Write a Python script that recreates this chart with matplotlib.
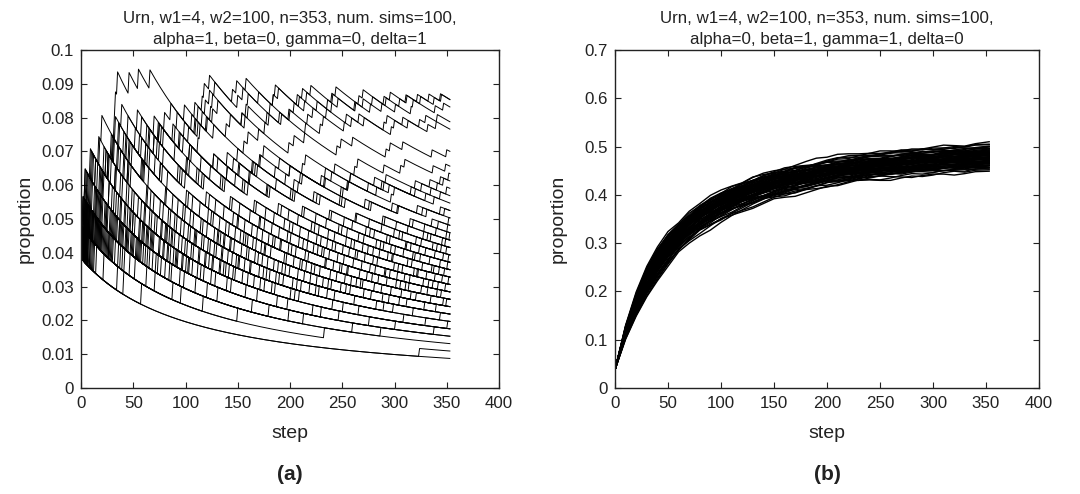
import matplotlib
matplotlib.use("Agg")
import matplotlib.pyplot as plt
import numpy as np

plt.rcParams['font.family'] = ['Liberation Sans', 'DejaVu Sans']

# ---------------- data ----------------
W1 = 4          # initial red balls
W2 = 100        # initial white balls
N_STEPS = 353   # number of draws

TITLE_A = "Urn, w1=4, w2=100, n=353, num. sims=100,\nalpha=1, beta=0, gamma=0, delta=1"
TITLE_B = "Urn, w1=4, w2=100, n=353, num. sims=100,\nalpha=0, beta=1, gamma=1, delta=0"

X_TICKS = [0, 50, 100, 150, 200, 250, 300, 350, 400]
Y_TICKS_A = [0, 0.01, 0.02, 0.03, 0.04, 0.05, 0.06, 0.07, 0.08, 0.09, 0.1]
Y_LABELS_A = ['0', '0.01', '0.02', '0.03', '0.04', '0.05', '0.06', '0.07', '0.08', '0.09', '0.1']
Y_TICKS_B = [0, 0.1, 0.2, 0.3, 0.4, 0.5, 0.6, 0.7]
Y_LABELS_B = ['0', '0.1', '0.2', '0.3', '0.4', '0.5', '0.6', '0.7']

# panel (a): steps at which a red ball was drawn (red count +1), one list per simulation
A_JUMPS = [
    [],
    [324],
    [41, 233],
    [12, 150, 287], [3, 96, 199],
    [22, 71, 180, 301], [5, 9, 260, 338], [58, 117, 213, 276],
    [2, 40, 131, 222, 309], [15, 88, 95, 247, 330], [7, 63, 164, 188, 351],
    [6, 30, 77, 140, 205, 290], [1, 18, 110, 169, 241, 318], [35, 52, 121, 198, 266, 344], [4, 11, 85, 230, 251, 299],
    [9, 26, 60, 103, 176, 225, 312], [2, 47, 81, 144, 201, 283, 340], [13, 38, 99, 158, 209, 262, 329], [5, 20, 69, 125, 186, 243, 305],
    [3, 17, 44, 91, 137, 190, 254, 321], [8, 29, 66, 107, 166, 219, 278, 347], [1, 24, 55, 118, 172, 236, 271, 335],
    [11, 33, 74, 129, 148, 207, 289, 316], [6, 42, 87, 112, 183, 228, 295, 350],
    [2, 14, 50, 80, 133, 175, 226, 281, 332], [4, 27, 58, 97, 146, 194, 240, 297, 341], [10, 19, 64, 101, 155, 203, 258, 307, 326],
    [7, 36, 72, 115, 160, 211, 249, 288, 345], [1, 5, 45, 93, 139, 181, 237, 270, 314],
    [3, 21, 48, 76, 123, 162, 208, 245, 293, 337], [6, 16, 57, 89, 134, 171, 220, 264, 302, 349],
    [2, 31, 62, 104, 142, 187, 232, 268, 311, 333], [9, 25, 54, 98, 127, 178, 214, 259, 306, 342],
    [1, 12, 39, 83, 120, 157, 200, 253, 285, 328],
    [4, 15, 43, 70, 108, 141, 179, 216, 250, 296, 331], [2, 23, 51, 84, 113, 152, 193, 229, 274, 310, 346],
    [7, 28, 46, 79, 119, 163, 196, 239, 267, 303, 339], [1, 10, 37, 67, 100, 136, 170, 212, 256, 292, 323],
    [5, 19, 56, 92, 126, 149, 185, 224, 279, 315, 352],
    [3, 13, 34, 61, 90, 128, 159, 197, 235, 261, 300, 336], [6, 22, 49, 75, 106, 145, 174, 210, 248, 282, 319, 343],
    [2, 8, 41, 68, 102, 135, 167, 204, 242, 277, 308, 348], [4, 27, 53, 86, 114, 151, 189, 221, 255, 291, 322, 338],
    [1, 18, 32, 65, 94, 130, 161, 195, 234, 269, 304, 327],
    [2, 11, 30, 57, 82, 111, 143, 173, 206, 238, 272, 298, 334], [5, 20, 44, 69, 97, 124, 154, 182, 215, 246, 280, 313, 344],
    [3, 9, 38, 63, 88, 116, 147, 177, 218, 252, 284, 317, 351], [1, 16, 35, 59, 85, 122, 138, 168, 202, 231, 263, 294, 325],
    [2, 7, 26, 50, 73, 99, 132, 156, 184, 217, 244, 275, 301, 330], [4, 14, 33, 60, 81, 109, 137, 165, 192, 223, 257, 286, 318, 347],
    [1, 10, 29, 47, 78, 105, 131, 160, 191, 227, 251, 280, 309, 339], [3, 17, 40, 64, 87, 118, 144, 176, 199, 233, 265, 299, 320, 352],
    [1, 6, 21, 45, 66, 92, 117, 142, 169, 198, 226, 254, 283, 311, 337], [3, 12, 31, 52, 77, 103, 128, 153, 180, 209, 236, 262, 290, 316, 345],
    [2, 8, 24, 48, 71, 96, 121, 148, 174, 201, 230, 259, 287, 312, 341], [4, 15, 37, 56, 83, 110, 134, 158, 186, 213, 241, 270, 297, 324, 350],
    [1, 5, 18, 36, 55, 79, 100, 125, 150, 172, 200, 224, 250, 277, 305, 332],
    [2, 9, 25, 43, 62, 86, 108, 133, 157, 183, 210, 237, 266, 293, 321, 346],
    [3, 11, 28, 50, 68, 90, 115, 139, 164, 190, 218, 243, 271, 296, 326, 349],
    [1, 4, 15, 32, 51, 70, 93, 114, 137, 162, 185, 208, 235, 260, 288, 313, 340],
    [2, 7, 20, 39, 58, 76, 98, 122, 146, 171, 195, 221, 247, 273, 300, 328, 353],
    [3, 6, 23, 42, 61, 84, 105, 127, 151, 176, 203, 228, 255, 281, 308, 335, 350],
    [1, 3, 13, 27, 44, 63, 81, 101, 120, 143, 166, 189, 212, 238, 263, 289, 315, 342],
    [2, 5, 17, 34, 49, 67, 88, 107, 129, 152, 177, 199, 225, 252, 276, 302, 329, 351],
    [1, 2, 4, 12, 26, 41, 59, 76, 95, 113, 134, 157, 179, 203, 226, 250, 276, 303, 331],
    [2, 6, 16, 30, 46, 64, 82, 103, 123, 145, 168, 192, 214, 240, 264, 291, 318, 336, 352],
    [1, 3, 8, 19, 33, 48, 65, 83, 100, 118, 138, 160, 181, 205, 229, 253, 278, 304, 327, 348],
    [2, 4, 7, 14, 29, 45, 60, 78, 97, 116, 136, 155, 178, 201, 223, 248, 272, 298, 322, 344],
    [1, 2, 6, 11, 24, 38, 41, 71, 75, 79, 106, 131, 140, 167, 171, 200, 234, 240, 283, 290, 330],
    [1, 3, 5, 10, 22, 35, 37, 66, 70, 102, 104, 140, 161, 164, 204, 210, 249, 256, 297, 300, 338, 344],
    [1, 2, 4, 9, 18, 30, 43, 45, 73, 90, 94, 127, 146, 150, 186, 190, 230, 234, 275, 281, 320, 326, 350],
    [2, 4, 6, 21, 33, 46, 61, 64, 93, 111, 115, 148, 152, 187, 208, 212, 251, 255, 258, 295, 316, 335, 341, 347],
    [3, 6, 10, 14, 17, 20, 44, 62, 66, 101, 104, 140, 162, 165, 196, 200, 233, 256, 258, 288, 292, 320, 334, 344, 352],
    [5, 12, 25, 38, 40, 42, 58, 76, 79, 104, 124, 127, 151, 169, 172, 175, 212, 215, 243, 262, 265, 290, 306, 310, 337, 349],
    [2, 8, 15, 21, 27, 32, 36, 39, 65, 70, 98, 112, 114, 127, 156, 160, 170, 199, 204, 214, 245, 249, 260, 292, 296, 308, 336, 350],
    [1, 4, 9, 18, 24, 31, 33, 52, 54, 75, 80, 86, 110, 121, 124, 126, 157, 160, 180, 192, 200, 229, 232, 235, 254, 271, 297, 300, 313, 332, 340],
    [2, 5, 11, 16, 26, 29, 47, 56, 58, 77, 95, 99, 109, 120, 139, 143, 154, 176, 178, 190, 215, 217, 222, 252, 259, 266, 290, 293, 308, 324, 330, 341],
    [4, 6, 19, 27, 34, 36, 49, 62, 63, 75, 90, 92, 99, 112, 116, 118, 123, 150, 155, 158, 184, 189, 214, 216, 220, 246, 263, 266, 270, 301, 305, 312, 339, 347],
    [3, 8, 14, 20, 26, 31, 32, 33, 35, 46, 55, 66, 112, 116, 119, 123, 128, 145, 149, 170, 184, 186, 209, 212, 236, 240, 244, 277, 279, 290, 316, 318, 322, 338, 345],
    [5, 7, 19, 22, 38, 45, 46, 58, 70, 74, 88, 103, 106, 109, 126, 131, 154, 158, 160, 181, 199, 204, 207, 226, 240, 241, 262, 270, 288, 292, 296, 311, 325, 333, 344],
]

# panel (b): proportion read at these steps
B_STEPS = [0, 10, 20, 30, 40, 50, 60, 70, 80, 90, 100, 110, 120, 130, 140, 150, 160, 170, 180,
           190, 200, 210, 220, 230, 240, 250, 260, 270, 280, 290, 300, 310, 320, 330, 340, 353]
# centre of the band at those steps
B_CENTER = [0.038, 0.116, 0.175, 0.222, 0.259, 0.290, 0.314, 0.335, 0.353, 0.367, 0.380, 0.391,
            0.400, 0.409, 0.416, 0.423, 0.428, 0.433, 0.438, 0.442, 0.446, 0.449, 0.452, 0.455,
            0.458, 0.460, 0.462, 0.464, 0.466, 0.468, 0.469, 0.471, 0.472, 0.473, 0.475, 0.477]
# per-simulation offset from the band centre, in thousandths
B_OFFSETS = [
    [0, 8, 14, 18, 20, 22, 20, 19, 17, 18, 16, 14, 15, 13, 12, 14, 16, 15, 13, 11, 12, 14, 13, 15, 17, 16, 18, 20, 19, 21, 22, 20, 19, 21, 23, 24],
    [0, -10, -18, -24, -27, -29, -27, -30, -33, -31, -29, -30, -32, -34, -31, -28, -26, -25, -27, -29, -30, -28, -25, -22, -20, -21, -19, -17, -18, -20, -22, -21, -19, -20, -22, -21],
    [0, 6, 3, 8, 11, 9, 7, 4, 2, 5, 8, 10, 9, 7, 5, 3, 4, 6, 8, 7, 5, 3, 1, 2, 4, 6, 5, 3, 2, 4, 6, 8, 7, 5, 6, 4],
    [0, -5, -12, -9, -13, -11, -9, -12, -15, -13, -10, -8, -11, -14, -12, -9, -7, -10, -13, -15, -12, -10, -8, -11, -13, -10, -8, -6, -9, -11, -8, -6, -9, -12, -10, -11],
    [0, 12, 19, 25, 27, 28, 25, 27, 24, 21, 23, 26, 24, 21, 18, 16, 19, 22, 20, 17, 15, 18, 21, 19, 16, 14, 17, 19, 16, 13, 15, 18, 20, 17, 15, 16],
    [0, -3, -8, -13, -17, -19, -19, -22, -25, -28, -30, -33, -35, -37, -34, -31, -33, -36, -34, -31, -28, -30, -27, -24, -26, -29, -27, -24, -22, -25, -23, -20, -22, -24, -21, -23],
    [0, 4, 7, 2, -2, 2, -1, -4, -2, 1, 3, 0, -3, -1, 2, 4, 1, -2, 0, 3, 5, 2, 0, -2, 1, 3, 0, -3, -1, 2, 0, -2, 1, 3, 1, 0],
    [0, 7, 12, 15, 12, 13, 13, 11, 8, 6, 9, 12, 14, 12, 10, 8, 11, 9, 6, 4, 7, 9, 11, 13, 11, 9, 12, 14, 12, 10, 13, 15, 13, 11, 14, 12],
    [0, -8, -14, -17, -14, -12, -7, -10, -13, -16, -19, -17, -14, -16, -19, -22, -20, -18, -21, -19, -16, -14, -17, -15, -12, -14, -17, -19, -16, -14, -17, -15, -13, -16, -18, -17],
    [0, 14, 24, 30, 33, 34, 28, 31, 29, 32, 30, 27, 25, 28, 26, 23, 21, 24, 22, 19, 22, 25, 23, 26, 28, 26, 24, 27, 29, 27, 30, 32, 30, 28, 31, 33],
    [0, -2, 4, 8, 5, 0, -3, -5, -2, 1, -1, -4, -6, -3, 0, 2, -1, -3, -5, -2, 0, -2, -4, -1, 1, -2, -4, -6, -3, -1, -3, -5, -2, 0, -2, -3],
    [0, 5, 9, 7, 11, 8, 5, 3, 6, 9, 11, 8, 6, 4, 7, 9, 7, 5, 8, 10, 12, 10, 8, 6, 9, 7, 5, 8, 10, 8, 6, 9, 11, 9, 7, 8],
    [0, -9, -17, -23, -26, -27, -18, -15, -18, -21, -24, -22, -19, -17, -20, -23, -26, -29, -27, -24, -21, -19, -22, -25, -23, -21, -24, -27, -30, -28, -26, -28, -31, -29, -27, -28],
    [0, 3, -2, -5, 0, 3, 6, 4, 1, -1, 2, 5, 7, 5, 2, 0, 3, 1, -2, -4, -1, 1, -1, 2, 4, 2, 0, 3, 5, 3, 1, 4, 2, 0, 2, 1],
    [0, 9, 16, 14, 19, 20, 14, 17, 20, 18, 15, 13, 16, 19, 21, 19, 16, 14, 17, 20, 23, 21, 19, 22, 24, 22, 20, 17, 19, 22, 20, 18, 21, 23, 21, 22],
    [0, -6, -12, -15, -10, -8, -8, -11, -9, -6, -4, -7, -10, -8, -5, -3, -6, -9, -7, -4, -2, -5, -8, -6, -3, -5, -8, -10, -7, -5, -8, -6, -4, -7, -9, -8],
    [0, 2, 7, 13, 16, 15, 10, 7, 4, 2, 0, 3, 5, 3, 0, -2, 1, 3, 6, 8, 6, 3, 1, 4, 6, 9, 7, 4, 2, 5, 3, 1, 3, 5, 4, 6],
    [0, -14, -24, -31, -34, -33, -29, -26, -23, -25, -22, -19, -21, -24, -22, -19, -17, -20, -18, -15, -17, -20, -23, -21, -18, -16, -19, -17, -14, -16, -18, -16, -13, -15, -17, -16],
    [0, 6, 12, 17, 15, 14, 15, 18, 21, 24, 22, 19, 17, 20, 23, 25, 28, 26, 23, 21, 24, 27, 29, 27, 24, 22, 25, 23, 20, 18, 21, 19, 16, 18, 20, 19],
    [0, -4, 0, -5, -9, -7, -5, -2, 0, -3, -6, -4, -1, 1, -2, -5, -3, 0, 2, -1, -4, -2, 1, -1, -3, 0, 2, -1, -3, 0, -2, 1, -1, -3, -1, -2],
    [0, 4, 9, 6, 10, 11, 11, 9, 12, 10, 7, 9, 12, 10, 8, 11, 13, 10, 8, 10, 8, 6, 9, 11, 9, 7, 10, 12, 10, 13, 11, 9, 11, 13, 10, 11],
    [0, -11, -19, -22, -18, -17, -17, -15, -12, -14, -17, -20, -23, -26, -24, -27, -30, -28, -25, -23, -26, -24, -21, -19, -22, -20, -18, -21, -19, -16, -18, -21, -19, -17, -19, -20],
    [0, 6, 10, 5, 1, -2, 0, 3, 5, 7, 4, 2, -1, 1, 4, 6, 4, 1, 3, 6, 8, 6, 3, 5, 7, 5, 3, 5, 7, 9, 7, 5, 7, 9, 8, 9],
    [0, -4, -9, -13, -8, -5, -4, -7, -10, -8, -11, -13, -10, -8, -11, -9, -12, -14, -11, -13, -10, -12, -14, -11, -9, -12, -10, -13, -11, -8, -10, -12, -10, -8, -11, -10],
    [0, 12, 21, 27, 29, 26, 23, 21, 18, 16, 19, 17, 14, 12, 15, 13, 10, 8, 11, 14, 12, 9, 11, 14, 16, 14, 11, 13, 15, 17, 15, 12, 14, 16, 17, 18],
    [0, 2, -4, 3, 1, -3, -6, -8, -11, -9, -12, -15, -13, -16, -18, -21, -19, -22, -25, -23, -20, -22, -19, -17, -15, -18, -16, -14, -12, -15, -13, -11, -13, -15, -14, -15],
    [0, -3, 4, 8, 5, 6, 2, 5, 3, 6, 4, 1, 3, 0, -2, 1, -1, 2, 0, -3, -1, 2, 4, 1, -1, 2, 0, -2, 1, -1, -3, 0, 2, 0, -2, -1],
    [0, 9, 17, 22, 24, 23, 17, 20, 23, 26, 24, 21, 24, 27, 29, 27, 25, 22, 20, 23, 26, 28, 26, 23, 21, 24, 26, 28, 25, 27, 24, 26, 28, 26, 28, 27],
    [0, -7, -13, -9, -14, -15, -14, -17, -20, -22, -25, -27, -24, -21, -18, -16, -13, -15, -12, -10, -13, -11, -8, -10, -12, -9, -11, -13, -15, -12, -14, -16, -13, -11, -13, -12],
    [0, 5, 1, -4, 2, 4, 3, 6, 8, 6, 9, 7, 5, 8, 6, 4, 6, 9, 7, 5, 8, 6, 3, 5, 2, 4, 6, 3, 5, 7, 4, 2, 4, 6, 4, 5],
    [0, -9, -17, -24, -27, -25, -15, -12, -9, -11, -13, -10, -7, -9, -12, -14, -11, -8, -10, -13, -11, -8, -6, -9, -7, -5, -8, -6, -9, -11, -9, -7, -10, -8, -6, -7],
    [0, 10, 8, 13, 16, 17, 15, 12, 10, 13, 15, 17, 15, 12, 14, 16, 18, 16, 13, 11, 14, 16, 14, 11, 9, 12, 14, 12, 10, 12, 14, 16, 14, 12, 13, 14],
    [0, -6, -11, -6, -10, -12, -12, -10, -13, -16, -14, -11, -9, -12, -10, -7, -5, -8, -6, -9, -7, -4, -6, -3, -5, -7, -5, -2, -4, -6, -8, -5, -3, -5, -7, -6],
    [0, 7, 13, 15, 10, 6, 1, 3, 0, -2, 1, 3, 1, -2, -4, -1, 2, 0, -2, 1, 3, 0, -3, -1, 2, 0, -2, 0, 2, 4, 2, 0, -2, 0, 2, 1],
    [0, -12, -21, -27, -31, -32, -25, -28, -26, -29, -32, -29, -27, -24, -22, -25, -22, -19, -21, -18, -16, -19, -22, -25, -27, -30, -32, -29, -27, -30, -28, -25, -23, -26, -24, -25],
    [0, 8, 14, 18, 15, 16, 14, 17, 19, 17, 20, 22, 19, 17, 20, 18, 21, 23, 20, 18, 16, 19, 17, 20, 22, 25, 27, 29, 27, 25, 28, 26, 24, 27, 29, 28],
    [0, -1, -6, -11, -8, -5, -6, -4, -1, 2, 0, -3, -1, 2, 4, 2, -1, -3, 0, 2, 4, 7, 5, 2, 0, 3, 5, 3, 0, -2, 1, -1, -3, -1, -3, -2],
    [0, 9, 6, 11, 14, 11, 4, 7, 10, 8, 11, 13, 11, 9, 7, 10, 8, 5, 3, 6, 4, 7, 9, 7, 10, 8, 6, 8, 11, 9, 7, 10, 8, 6, 9, 8],
    [0, -15, -26, -33, -37, -38, -32, -35, -38, -40, -37, -34, -31, -28, -25, -22, -24, -21, -19, -17, -15, -18, -16, -14, -17, -15, -13, -16, -14, -12, -15, -13, -16, -14, -16, -15],
    [0, 3, 8, 3, 7, 9, 8, 11, 13, 15, 18, 16, 19, 21, 24, 22, 25, 28, 31, 34, 32, 35, 33, 30, 28, 31, 29, 26, 24, 27, 25, 23, 26, 24, 22, 23],
    [0, 3, 6, 9, 11, 13, 12, 10, 8, 10, 12, 11, 9, 7, 9, 11, 10, 8, 6, 8, 10, 9, 7, 9, 11, 10, 8, 10, 12, 10, 8, 10, 12, 11, 9, 10],
    [0, -3, -6, -8, -10, -9, -7, -9, -11, -10, -8, -6, -8, -10, -9, -7, -5, -7, -9, -8, -6, -4, -6, -8, -7, -5, -7, -9, -7, -5, -7, -9, -8, -6, -8, -7],
    [0, 5, 9, 12, 15, 17, 16, 14, 16, 18, 17, 15, 13, 15, 17, 16, 14, 12, 14, 16, 15, 13, 15, 17, 16, 14, 12, 14, 16, 15, 13, 15, 17, 15, 13, 14],
    [0, -6, -11, -15, -17, -18, -16, -14, -16, -18, -17, -15, -13, -15, -17, -16, -14, -12, -14, -16, -15, -13, -15, -14, -12, -10, -12, -14, -13, -11, -13, -15, -14, -12, -13, -12],
    [0, 1, 3, 5, 4, 2, 0, 2, 4, 3, 1, -1, 1, 3, 2, 0, -2, 0, 2, 1, -1, 1, 3, 2, 0, -2, 0, 2, 1, -1, 1, 3, 2, 0, 1, 2],
    [0, -1, -4, -7, -6, -4, -2, -4, -6, -5, -3, -1, -3, -5, -4, -2, 0, -2, -4, -3, -1, 1, -1, -3, -2, 0, 2, 0, -2, -1, 1, -1, -3, -2, 0, -1],
    [0, 7, 13, 18, 21, 23, 21, 19, 21, 23, 22, 20, 18, 20, 19, 17, 15, 17, 19, 18, 16, 14, 16, 18, 17, 15, 13, 15, 17, 16, 14, 16, 18, 17, 15, 16],
    [0, -7, -14, -19, -22, -23, -21, -19, -21, -20, -18, -16, -18, -20, -19, -17, -15, -17, -19, -18, -16, -14, -16, -18, -17, -15, -13, -15, -17, -16, -18, -16, -14, -16, -15, -16],
    [0, 4, 2, 6, 8, 6, 4, 6, 8, 7, 5, 7, 9, 8, 6, 4, 6, 8, 7, 5, 3, 5, 7, 6, 4, 6, 8, 7, 5, 3, 5, 7, 6, 4, 6, 5],
    [0, -4, -2, -5, -3, -1, -3, -5, -4, -6, -8, -7, -5, -3, -5, -7, -6, -4, -2, -4, -6, -5, -3, -5, -7, -6, -4, -6, -8, -7, -5, -3, -5, -4, -6, -5],
    [0, 2, 5, 8, 6, 4, 6, 8, 7, 5, 3, 5, 4, 2, 4, 6, 5, 3, 5, 7, 6, 4, 2, 4, 6, 5, 3, 1, 3, 5, 4, 2, 4, 3, 1, 2],
    [0, -5, -9, -12, -14, -13, -11, -13, -12, -10, -12, -14, -13, -11, -9, -11, -10, -8, -10, -12, -11, -9, -11, -10, -8, -10, -12, -11, -9, -11, -10, -8, -10, -9, -11, -10],
    [0, 6, 10, 14, 13, 11, 13, 15, 14, 12, 14, 13, 11, 9, 11, 13, 12, 10, 12, 11, 9, 11, 13, 12, 10, 8, 10, 12, 11, 9, 11, 10, 8, 10, 12, 11],
    [0, -2, 0, 2, 0, -2, -4, -2, 0, 2, 1, -1, -3, -1, 1, 0, -2, -1, 1, 3, 2, 0, -2, 0, 2, 1, -1, 1, 3, 2, 0, -2, 0, 2, 1, 0],
    [0, 8, 15, 20, 24, 26, 25, 23, 25, 24, 22, 20, 22, 21, 19, 21, 20, 18, 20, 22, 21, 19, 17, 19, 21, 20, 18, 20, 22, 21, 19, 21, 20, 18, 20, 19],
    [0, -8, -15, -20, -23, -24, -22, -24, -23, -21, -19, -21, -20, -18, -20, -22, -21, -19, -17, -19, -18, -20, -19, -17, -15, -17, -19, -18, -16, -18, -17, -15, -17, -19, -18, -17],
    [0, 3, 7, 10, 12, 14, 16, 15, 17, 19, 18, 16, 14, 16, 15, 13, 11, 13, 15, 14, 12, 10, 12, 14, 13, 11, 9, 11, 13, 12, 10, 12, 14, 13, 11, 12],
    [0, -3, -7, -11, -13, -12, -14, -16, -15, -13, -11, -9, -11, -13, -12, -10, -8, -10, -12, -11, -9, -7, -9, -11, -10, -8, -10, -12, -11, -9, -7, -9, -11, -10, -8, -9],
    [0, 5, 8, 10, 9, 7, 9, 11, 10, 8, 6, 8, 10, 9, 7, 5, 7, 9, 8, 6, 4, 6, 8, 7, 5, 7, 9, 8, 6, 4, 6, 8, 7, 5, 7, 6],
    [0, -5, -8, -10, -9, -7, -5, -7, -9, -8, -6, -4, -6, -8, -7, -5, -3, -5, -7, -6, -4, -2, -4, -6, -5, -3, -5, -7, -6, -4, -2, -4, -6, -5, -3, -4],
]

# ---------------- figure ----------------
W, H = 1080, 494
fig = plt.figure(figsize=(W / 100, H / 100), dpi=100)

ax_a = fig.add_axes([81 / W, 1 - 388 / H, 418 / W, 338 / H])
ax_b = fig.add_axes([615 / W, 1 - 388 / H, 424 / W, 338 / H])

steps = np.arange(0, N_STEPS + 1)
for jumps in A_JUMPS:
    red = W1 + np.searchsorted(np.array(jumps, dtype=float), steps, side='right')
    ax_a.plot(steps, red / (W1 + W2 + steps), color='black', lw=0.7)

center = np.array(B_CENTER)
for off in B_OFFSETS:
    ax_b.plot(B_STEPS, center + np.array(off) / 1000.0, color='black', lw=1.0)

INK = '#222222'


def style(ax, title, yticks, ylabels, ylim, letter):
    ax.set_xlim(0, 400)
    ax.set_ylim(*ylim)
    ax.set_xticks(X_TICKS)
    ax.set_xticklabels([str(v) for v in X_TICKS])
    ax.set_yticks(yticks)
    ax.set_yticklabels(ylabels)
    ax.tick_params(direction='in', top=True, right=True, length=4, width=0.8,
                   labelsize=12.2, pad=6, colors=INK)
    ax.tick_params(axis='y', pad=5)
    for sp in ax.spines.values():
        sp.set_linewidth(1.0)
        sp.set_color(INK)
    ax.set_title(title, fontsize=12.2, linespacing=1.55, pad=4, color=INK)
    ax.set_xlabel('step', fontsize=14, color=INK)
    ax.xaxis.label.set_va('center')
    ax.xaxis.set_label_coords(0.5, -(434 - 388) / 338)
    ax.set_ylabel('proportion', fontsize=14, color=INK)
    ax.yaxis.label.set_va('center')
    ax.yaxis.set_label_coords(-56 / 418, 0.5)
    ax.text(0.5, -(475 - 388) / 338, letter, transform=ax.transAxes, ha='center', va='center',
            fontsize=15, fontweight='bold', color=INK)


style(ax_a, TITLE_A, Y_TICKS_A, Y_LABELS_A, (0, 0.1), '(a)')
style(ax_b, TITLE_B, Y_TICKS_B, Y_LABELS_B, (0, 0.7), '(b)')

fig.savefig('out.png', dpi=100)
